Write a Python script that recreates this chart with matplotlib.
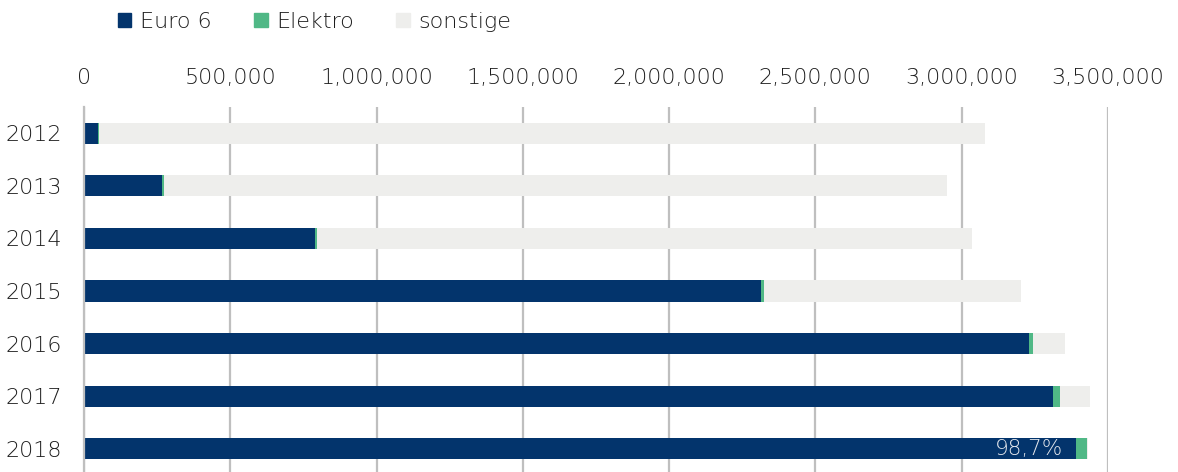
import matplotlib.pyplot as plt
from matplotlib.patches import Patch
from matplotlib.ticker import FuncFormatter

years = ["2012", "2013", "2014", "2015", "2016", "2017", "2018"]
euro6 = [48000, 266000, 789000, 2313000, 3229000, 3311000, 3390000]
elektro = [3000, 6000, 8000, 10000, 13000, 25000, 38000]
sonstige = [3028000, 2677000, 2238000, 879000, 110000, 104000, 5000]
share_label = "98,7%"

c_euro = "#03346c"
c_elek = "#50b886"
c_sonst = "#eeeeec"
c_grid = "#bfbfbf"
c_text = "#1e1e1e"

plt.rcParams['font.family'] = ['DejaVu Sans']
plt.rcParams['font.weight'] = 'light'

fig = plt.figure(figsize=(11.78, 4.72), dpi=100)
ax = fig.add_axes([84 / 1178, (472 - 475) / 472, (1108 - 84) / 1178, (475 - 107) / 472])

pos = list(range(len(years)))
left2 = [a + b for a, b in zip(euro6, elektro)]
ax.barh(pos, euro6, height=0.4, color=c_euro, zorder=2)
ax.barh(pos, elektro, left=euro6, height=0.4, color=c_elek, zorder=2)
ax.barh(pos, sonstige, left=left2, height=0.4, color=c_sonst, zorder=2)

ax.text(euro6[-1] - 45000, pos[-1], share_label, ha='right', va='center',
        color='#e2e6ec', fontsize=15.5, zorder=3)

ax.set_xlim(0, 3500000)
ax.set_ylim(6.5, -0.5)
ax.set_yticks(pos)
ax.set_yticklabels(years)
ax.set_xticks(range(0, 3500001, 500000))
ax.xaxis.set_major_formatter(FuncFormatter(lambda v, p: f"{int(v):,}"))
ax.xaxis.tick_top()
ax.tick_params(axis='x', length=0, pad=14, labelsize=16, labelcolor=c_text)
ax.tick_params(axis='y', length=0, pad=16, labelsize=16, labelcolor=c_text)

ax.grid(axis='x', color=c_grid, linewidth=1.6)
ax.set_axisbelow(True)
for s in ['top', 'right', 'bottom']:
    ax.spines[s].set_visible(False)
ax.spines['left'].set_color(c_grid)
ax.spines['left'].set_linewidth(1.6)

handles = [Patch(color=c_euro, label="Euro 6"),
           Patch(color=c_elek, label="Elektro"),
           Patch(color=c_sonst, label="sonstige")]
fig.legend(handles=handles, loc='center left', bbox_to_anchor=(107 / 1178, 1 - 22 / 472),
           ncol=3, frameon=False, fontsize=16, handlelength=0.6, handleheight=0.6,
           handletextpad=0.4, columnspacing=1.9, borderpad=0, labelcolor=c_text)

fig.savefig("out.png", dpi=100)
